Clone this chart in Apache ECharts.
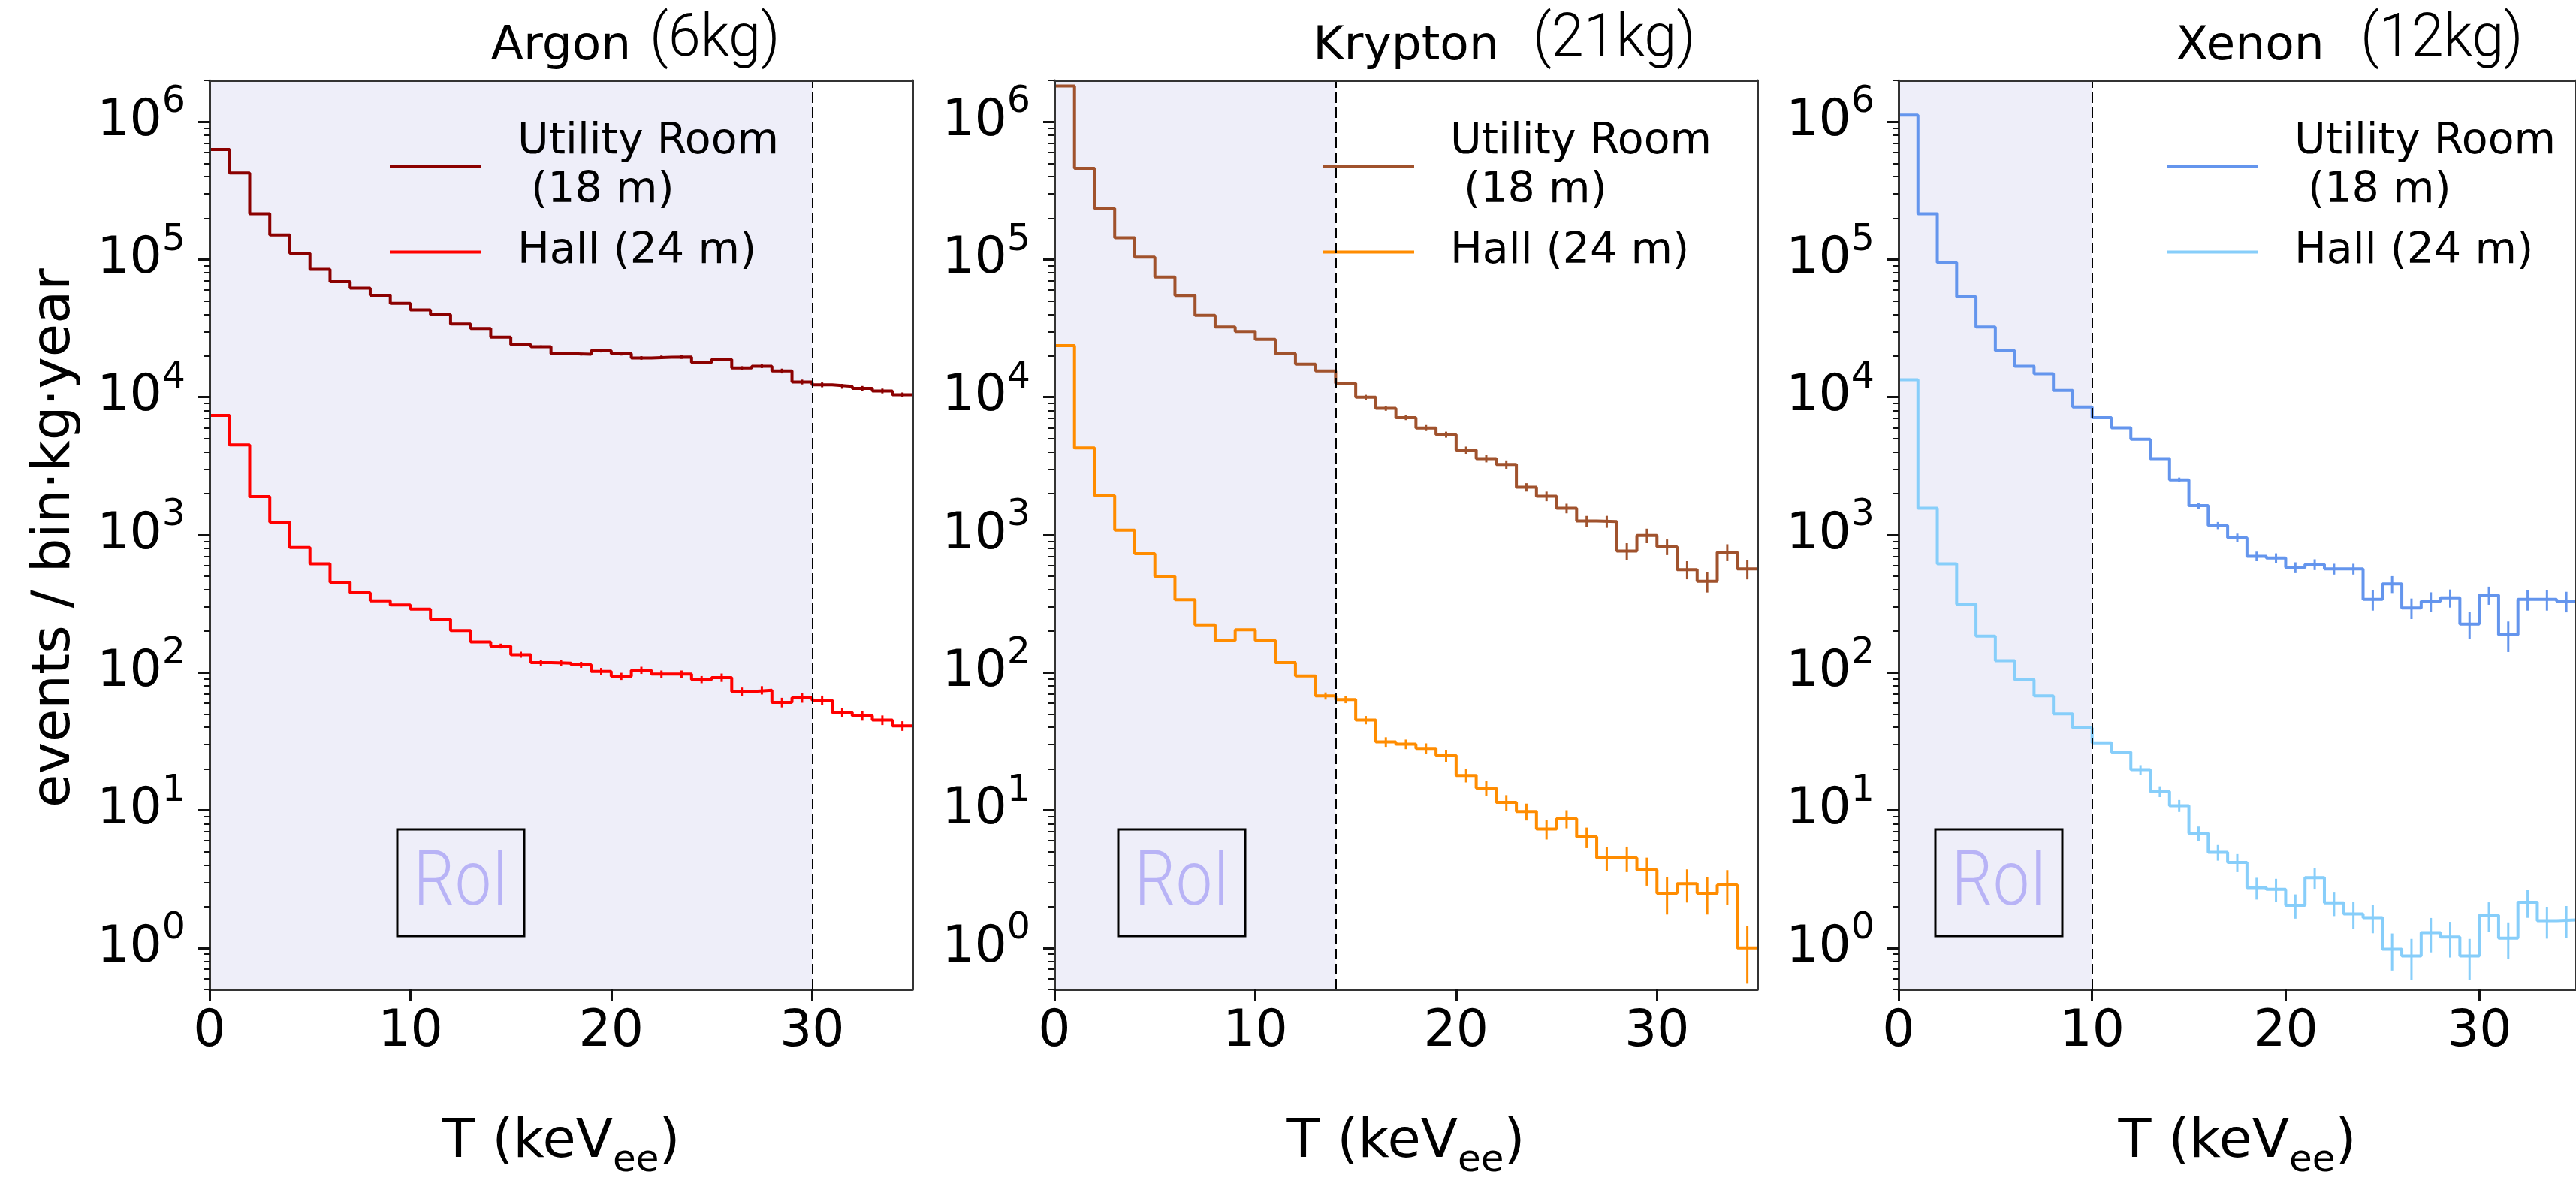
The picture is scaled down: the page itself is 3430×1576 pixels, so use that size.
<!DOCTYPE html>
<html><head><meta charset="utf-8">
<script src="https://cdn.jsdelivr.net/npm/echarts@6/dist/echarts.min.js"></script>
<style>html,body{margin:0;padding:0;background:#fff}#c{width:3430px;height:1576px}</style>
</head><body><div id="c"></div>
<script>
// ---------- data ----------
const binEdges = [0,1,2,3,4,5,6,7,8,9,10,11,12,13,14,15,16,17,18,19,20,21,22,23,24,25,26,27,28,29,30,31,32,33,34,35];
const xTicks = [0,10,20,30];
const yMajorTicks = [1,10,100,1000,10000,100000,1000000];
const yMinorMantissas = [2,3,4,5,6,7,8,9];
const yMinorExps = [-1,0,1,2,3,4,5,6];
const yMin = 0.5, yMax = 2.0e6;

const argonUtility = [630000,425000,215000,151000,111000,85000,69000,62000,55000,48000,43000,39800,34000,31600,27300,24100,23300,20700,20500,21800,20700,19300,19500,19600,17900,18800,16300,16800,15500,12900,12300,12000,11600,11100,10400];
const argonHall = [7370,4500,1900,1240,810,617,453,380,332,310,289,244,202,167,156,135,118,117,114,102,94,104,97.7,97.7,89,92,72.8,74.5,60.7,65.6,63,51.4,48.6,45.2,41];
const kryptonUtility = [1820000,460000,235000,144000,104000,74600,54800,39300,32400,30000,26300,20700,17400,15500,12600,10000,8300,7100,5980,5350,4130,3580,3250,2220,1910,1560,1260,1250,764,990,820,560,460,750,566];
const kryptonHall = [23700,4280,1930,1080,730,499,338,222,171,205,171,118,94.5,67.7,63.7,45.2,31.4,30.2,28.1,25,17.9,14.5,11.4,9.8,7.3,8.7,6.4,4.5,4.5,3.68,2.5,2.93,2.5,2.87,1.0];
const xenonUtility = [1120000,215000,95000,53700,32400,21800,16800,14800,11200,8500,7100,6000,4950,3580,2510,1630,1170,955,700,680,580,610,566,566,340,440,295,330,349,225,366,188,340,340,330];
const xenonHall = [13400,1560,617,314,184,122,88.9,67.7,50.2,39.6,30.9,26.5,19.7,13.7,10.8,6.8,4.95,4.18,2.74,2.67,2.04,3.24,2.13,1.77,1.66,0.98,0.875,1.29,1.2,0.875,1.73,1.18,2.15,1.58,1.6];

// relative error (fraction of value)
const argonUtilityErr = [0,0,0,0,0,0,0,0,0,0,0,0,0,0,0,0.02,0.02,0.02,0.02,0.03,0.03,0.03,0.03,0.03,0.03,0.03,0.03,0.03,0.04,0.04,0.04,0.04,0.04,0.04,0.04];
const argonHallErr = [0,0,0,0,0,0,0,0,0,0,0,0,0,0,0.04,0.05,0.05,0.05,0.05,0.06,0.06,0.06,0.06,0.06,0.06,0.07,0.07,0.07,0.08,0.08,0.08,0.08,0.08,0.08,0.08];
const kryptonUtilityErr = [0,0,0,0,0,0,0,0,0,0,0,0,0,0,0.03,0.04,0.04,0.04,0.05,0.05,0.06,0.06,0.07,0.07,0.08,0.08,0.09,0.1,0.14,0.12,0.13,0.15,0.17,0.14,0.16];
const kryptonHallErr = [0,0,0,0,0,0,0,0,0,0,0,0,0,0.06,0.06,0.07,0.08,0.08,0.09,0.1,0.11,0.12,0.13,0.14,0.16,0.15,0.17,0.2,0.21,0.23,0.3,0.27,0.3,0.28,0.45];
const xenonUtilityErr = [0,0,0,0,0,0,0,0,0,0,0,0,0,0,0.04,0.05,0.06,0.07,0.08,0.08,0.09,0.09,0.09,0.09,0.17,0.14,0.17,0.16,0.15,0.22,0.15,0.25,0.17,0.17,0.17];
const xenonHallErr = [0,0,0,0,0,0,0,0,0,0,0,0,0.08,0.09,0.1,0.12,0.13,0.15,0.18,0.19,0.2,0.17,0.2,0.22,0.23,0.3,0.33,0.28,0.29,0.33,0.24,0.3,0.23,0.26,0.26];

const panelNames = ['Argon','Krypton','Xenon'];
const panelMasses = ['(6kg)','(21kg)','(12kg)'];
const roiEnds = [30,14,10];
const legendLabels = ['Utility Room\n (18 m)','Hall (24 m)'];
const yLabel = 'events / bin\u00b7kg\u00b7year';

// ---------- layout / style ----------
const PLOT_TOP = 107, PLOT_H = 1224, PLOT_W = 936;
const panels = [
  {left:279, legendLeft:519, roiBox:529, massLeft:865,
   series:[{vals:argonUtility, err:argonUtilityErr, color:'#8b0000'},{vals:argonHall, err:argonHallErr, color:'#ff0000'}]},
  {left:1404, legendLeft:1761, roiBox:1489, massLeft:2041,
   series:[{vals:kryptonUtility, err:kryptonUtilityErr, color:'#a0522d'},{vals:kryptonHall, err:kryptonHallErr, color:'#ff8c00'}]},
  {left:2528, legendLeft:2885, roiBox:2577, massLeft:3143,
   series:[{vals:xenonUtility, err:xenonUtilityErr, color:'#6495ed'},{vals:xenonHall, err:xenonHallErr, color:'#87cefa'}]}
];
const SHADE = '#eeeef9';
const AXC = '#333';
const FONT = 'DejaVu Sans';
const LIGHT_FONT = '300 80px Roboto, "Liberation Sans", sans-serif';

const yMinorTicks = [];
yMinorExps.forEach(e => yMinorMantissas.forEach(m => {
  const v = +(m * Math.pow(10, e)).toPrecision(3);
  if (v >= yMin && v <= yMax) yMinorTicks.push(v);
}));

const grid = [], xAxis = [], yAxis = [], series = [], legend = [], graphic = [];
const nameMap = {};

panels.forEach((p, g) => {
  grid.push({left:p.left, top:PLOT_TOP, width:PLOT_W, height:PLOT_H, show:false});
  xAxis.push({
    type:'value', gridIndex:g, min:0, max:35, interval:10, position:'bottom', z:10,
    axisLine:{show:true, onZero:false, lineStyle:{color:AXC, width:3}},
    axisTick:{show:true, customValues:xTicks, length:16, lineStyle:{color:'#111', width:3}},
    axisLabel:{show:true, customValues:xTicks, fontSize:68, fontFamily:FONT, color:'#000', margin:23},
    splitLine:{show:false},
    name:'{a|T (keV}{s|ee}{a|)}', nameLocation:'middle', nameGap:154,
    nameTextStyle:{rich:{
      a:{fontSize:72, fontFamily:FONT, color:'#000', lineHeight:100},
      s:{fontSize:50, fontFamily:FONT, color:'#000', lineHeight:54, verticalAlign:'bottom'}
    }}
  });
  xAxis.push({type:'value', gridIndex:g, min:0, max:35, position:'top', z:10,
    axisLine:{show:true, onZero:false, lineStyle:{color:AXC, width:3}},
    axisTick:{show:false}, axisLabel:{show:false}, splitLine:{show:false}});
  yAxis.push({
    type:'log', gridIndex:g, min:yMin, max:yMax, position:'left', z:10,
    axisLine:{show:true, onZero:false, lineStyle:{color:AXC, width:3}},
    axisTick:{show:true, customValues:yMajorTicks, length:15, lineStyle:{color:'#111', width:3}},
    axisLabel:{show:true, customValues:yMajorTicks, margin:32,
      formatter: v => '{b|10}{s|' + Math.round(Math.log10(v)) + '}',
      rich:{
        b:{fontSize:68, fontFamily:FONT, color:'#000', lineHeight:100},
        s:{fontSize:49, fontFamily:FONT, color:'#000', lineHeight:61, verticalAlign:'top'}
      }},
    splitLine:{show:false}
  });
  yAxis.push({
    type:'log', gridIndex:g, min:yMin, max:yMax, position:'left', z:10,
    axisLine:{show:false},
    axisTick:{show:true, customValues:yMinorTicks, length:8, lineStyle:{color:'#111', width:2}},
    axisLabel:{show:false}, splitLine:{show:false}
  });
  yAxis.push({type:'value', gridIndex:g, position:'right', z:10,
    axisLine:{show:true, onZero:false, lineStyle:{color:AXC, width:3}},
    axisTick:{show:false}, axisLabel:{show:false}, splitLine:{show:false}});

  const xi = 2 * g, yi = 3 * g;
  series.push({
    type:'line', xAxisIndex:xi, yAxisIndex:yi, data:[], silent:true, z:1, animation:false,
    markArea:{silent:true, itemStyle:{color:SHADE}, data:[[{xAxis:0},{xAxis:roiEnds[g]}]]},
    markLine:{silent:true, symbol:['none','none'], label:{show:false},
      lineStyle:{color:'#000', type:[14,6], width:2}, data:[{xAxis:roiEnds[g]}]}
  });
  const legendNames = [];
  p.series.forEach((s, k) => {
    const name = panelNames[g] + ' ' + legendLabels[k].replace('\n', '');
    nameMap[name] = legendLabels[k];
    legendNames.push(name);
    const data = s.vals.map((v, i) => [binEdges[i], v]);
    data.push([binEdges[s.vals.length], s.vals[s.vals.length - 1]]);
    series.push({
      type:'line', name, xAxisIndex:xi, yAxisIndex:yi, data, step:'end',
      symbol:'none', showSymbol:false, color:s.color, lineStyle:{color:s.color, width:4},
      z:3, animation:false, clip:true
    });
    const errData = [];
    s.vals.forEach((v, i) => {
      if (s.err[i] > 0) errData.push([(binEdges[i] + binEdges[i + 1]) / 2, v * (1 - s.err[i]), v * (1 + s.err[i])]);
    });
    series.push({
      type:'custom', xAxisIndex:xi, yAxisIndex:yi, data:errData, encode:{x:0, y:[1,2]},
      z:4, silent:true, animation:false, clip:true,
      renderItem:(params, api) => {
        const x = api.value(0);
        const a = api.coord([x, api.value(1)]);
        const b = api.coord([x, api.value(2)]);
        return {type:'line', shape:{x1:a[0], y1:a[1], x2:b[0], y2:b[1]}, style:{stroke:s.color, lineWidth:3}};
      }
    });
  });
  legend.push({
    left:p.legendLeft - 5, top:152, orient:'vertical', data:legendNames,
    formatter:n => nameMap[n], icon:'rect', itemWidth:122, itemHeight:4, itemGap:16,
    selectedMode:false,
    textStyle:{fontSize:57, lineHeight:65, fontFamily:FONT, color:'#000', padding:[0,0,0,43]}
  });

  const cx = p.left + PLOT_W / 2;
  graphic.push({type:'text', x:cx, y:63, style:{text:panelNames[g], font:'63px "DejaVu Sans"', fill:'#000', textAlign:'center', textVerticalAlign:'middle'}});
  graphic.push({type:'text', x:p.massLeft, y:54, scaleX:0.97, style:{text:panelMasses[g], font:LIGHT_FONT, fill:'#000', textAlign:'left', textVerticalAlign:'middle'}});
  graphic.push({type:'rect', shape:{x:p.roiBox, y:1104, width:169, height:142}, style:{fill:SHADE, stroke:'#000', lineWidth:3}, z:20});
  graphic.push({type:'text', x:p.roiBox + 85, y:1178, scaleX:0.85, z:21,
    style:{text:'RoI', font:'300 102px Roboto, "Liberation Sans", sans-serif', fill:'#b8b3f6', textAlign:'center', textVerticalAlign:'middle'}});
});

graphic.push({type:'text', x:73, y:716, rotation:Math.PI/2,
  style:{text:yLabel, font:'72px "DejaVu Sans"', fill:'#000', textAlign:'center', textVerticalAlign:'middle'}});

const chart = echarts.init(document.getElementById('c'), null, {renderer:'canvas'});
chart.setOption({backgroundColor:'#fff', animation:false, grid, xAxis, yAxis, series, legend, graphic});
</script>
</body></html>
